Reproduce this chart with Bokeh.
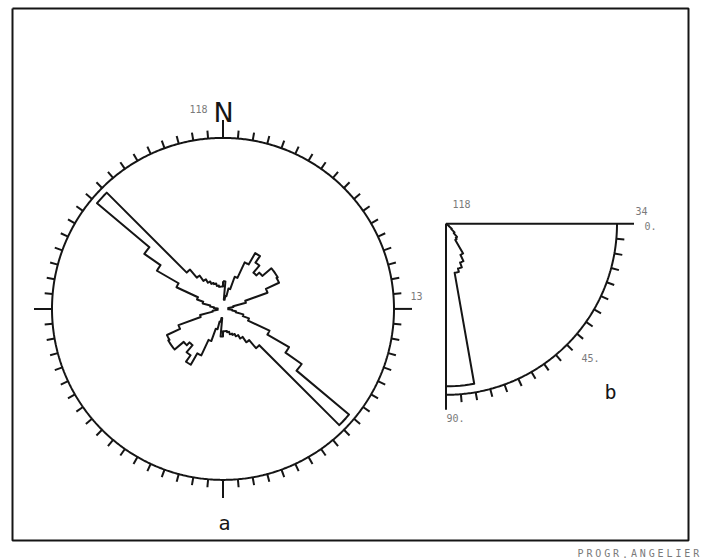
import numpy as np
from bokeh.plotting import figure
from bokeh.models import Range1d
from bokeh.embed import file_html
from bokeh.resources import INLINE
from bokeh.core.properties import value

# ---- data -------------------------------------------------------------
n_data = 118

# strike rose: 5-degree classes from 0 to 175 (bidirectional, repeated at +180), in percent
strike_bins = list(range(0, 180, 5))
strike_pct = [2.1, 0.7, 1.0, 1.6, 2.6, 3.9, 4.9, 4.3, 3.6, 3.9, 4.8, 4.8,
              4.7, 3.6, 1.8, 0.8, 0.4, 0.4, 0.4, 0.7, 1.0, 1.6, 2.1, 3.9,
              5.8, 7.3, 12.5, 3.9, 3.1, 2.6, 2.3, 2.1, 2.0, 1.8, 1.7, 1.7]
rose_max = 13

# dip quarter diagram: 5-degree classes from 0 to 85, in percent
dip_bins = list(range(0, 90, 5))
dip_pct = [0, 0, 0, 0, 0, 0, 0, 0.7, 1.5, 2.4, 3.4, 3.7,
           6.8, 8.2, 9.2, 9.9, 32.3, 32.3]
dip_max = 34
dip_labels = ["0.", "45.", "90."]

# ---- layout (page pixels, y grows downwards) ---------------------------
W, H = 707, 560
R = 171.0
rcx, rcy = 222.5, 308.4      # rose centre
dcx, dcy = 445.5, 223.3      # dip diagram corner
INK = "#151515"
GREY = "#7a7a7a"
MONO = "DejaVu Sans Mono"

p = figure(width=W, height=H, output_backend="svg", toolbar_location=None,
           x_range=Range1d(0, W), y_range=Range1d(H, 0), min_border=0)
p.axis.visible = False
p.grid.visible = False
p.outline_line_color = None
p.background_fill_color = "white"
p.border_fill_color = "white"

# outer frame
p.line([12, 688, 688, 12, 12], [8, 8, 540, 540, 8], line_color=INK, line_width=2)


def polar_rose(az_deg, r):
    t = np.radians(az_deg)
    return rcx + r * np.sin(t), rcy - r * np.cos(t)


def polar_dip(dip_deg, r):
    t = np.radians(dip_deg)
    return dcx + r * np.cos(t), dcy + r * np.sin(t)


# ---- a : strike rose ---------------------------------------------------
th = np.linspace(0, 360, 721)
cx_, cy_ = polar_rose(th, R)
p.line(cx_, cy_, line_color=INK, line_width=2)

tick_az = np.arange(0, 360, 5)
tick_len = np.where(tick_az % 90 == 0, 18, 8)
x0, y0 = polar_rose(tick_az, R)
x1, y1 = polar_rose(tick_az, R + tick_len)
p.segment(x0, y0, x1, y1, line_color=INK, line_width=2)

rx, ry = [], []
for a0, v in zip(strike_bins + [b + 180 for b in strike_bins], strike_pct + strike_pct):
    rr = v / rose_max * R
    for a in np.linspace(a0, a0 + 5, 4):
        px, py = polar_rose(a, rr)
        rx.append(px)
        ry.append(py)
rx.append(rx[0])
ry.append(ry[0])
p.line(rx, ry, line_color=INK, line_width=2, line_join="round")

p.text([223], [112], text=["N"], text_font=value("DejaVu Sans"), text_font_size="27px",
       text_color=INK, text_align="center", text_baseline="middle")
p.text([198], [108], text=[str(n_data)], text_font=value(MONO), text_font_size="10px",
       text_color=GREY, text_align="center", text_baseline="middle")
p.text([416], [295], text=[str(rose_max)], text_font=value(MONO), text_font_size="10px",
       text_color=GREY, text_align="center", text_baseline="middle")
p.text([224], [522], text=["a"], text_font=value(MONO), text_font_size="20px",
       text_color=INK, text_align="center", text_baseline="middle")

# ---- b : dip quarter diagram ------------------------------------------
qa = np.linspace(0, 90, 181)
qx, qy = polar_dip(qa, R)
p.line(qx, qy, line_color=INK, line_width=2)
p.line([dcx, dcx + R + 17], [dcy, dcy], line_color=INK, line_width=2)
p.line([dcx, dcx], [dcy, dcy + R + 15], line_color=INK, line_width=2)

dt = np.arange(5, 90, 5)
x0, y0 = polar_dip(dt, R)
x1, y1 = polar_dip(dt, R + 8)
p.segment(x0, y0, x1, y1, line_color=INK, line_width=2)

hx, hy = [dcx], [dcy]
for a0, v in zip(dip_bins, dip_pct):
    rr = v / dip_max * R
    for a in np.linspace(a0, a0 + 5, 4):
        px, py = polar_dip(a, rr)
        hx.append(px)
        hy.append(py)
hx.append(dcx)
hy.append(dcy)
p.line(hx, hy, line_color=INK, line_width=2, line_join="round")

small = dict(text_font=value(MONO), text_font_size="10px", text_color=GREY,
             text_align="center", text_baseline="middle")
p.text([461], [203], text=[str(n_data)], **small)
p.text([641], [210], text=[str(dip_max)], **small)
p.text([650, 590, 455], [225, 357, 417], text=dip_labels, **small)
p.text([610], [391], text=["b"], text_font=value(MONO), text_font_size="20px",
       text_color=INK, text_align="center", text_baseline="middle")

# program credit, letter-spaced, bottom right under the frame
credit = "PROGR.ANGELIER"
p.text([580 + 8.9 * i for i in range(len(credit))], [553] * len(credit),
       text=list(credit), text_font=value(MONO), text_font_size="10px",
       text_color=GREY, text_align="center", text_baseline="middle")

open("out.html", "w").write(file_html(p, INLINE))
